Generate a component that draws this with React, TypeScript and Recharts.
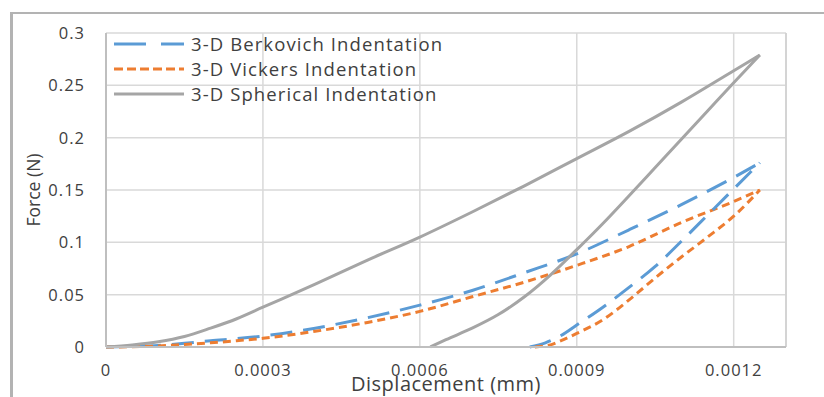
import { LineChart, Line, XAxis, YAxis, CartesianGrid, Legend, Label, ReferenceLine } from 'recharts';

// load-displacement curves (x in mm, force in N)
const loadX = [0, 0.00005, 0.0001, 0.00015, 0.0002, 0.00025, 0.0003, 0.0004, 0.0005, 0.0006, 0.0007, 0.0008, 0.0009, 0.001, 0.0011, 0.0012, 0.00125];
const berkLoad = [0, 0.0005, 0.0015, 0.0035, 0.006, 0.008, 0.0105, 0.018, 0.028, 0.04, 0.054, 0.071, 0.089, 0.112, 0.136, 0.162, 0.176];
const vickLoad = [0, 0.0003, 0.001, 0.0025, 0.004, 0.006, 0.0083, 0.015, 0.0235, 0.034, 0.048, 0.062, 0.078, 0.096, 0.119, 0.139, 0.15];
const spherLoad = [0, 0.002, 0.005, 0.01, 0.018, 0.027, 0.038, 0.06, 0.083, 0.105, 0.129, 0.154, 0.18, 0.206, 0.234, 0.264, 0.279];

// unloading branches, ascending x
const berkUnloadX = [0.00081, 0.00084, 0.00087, 0.0009, 0.00095, 0.001, 0.00105, 0.0011, 0.00115, 0.0012, 0.00125];
const berkUnload = [0, 0.004, 0.011, 0.021, 0.038, 0.057, 0.077, 0.101, 0.126, 0.151, 0.176];
const vickUnloadX = [0.00082, 0.00085, 0.00087, 0.0009, 0.00095, 0.001, 0.00105, 0.0011, 0.00115, 0.0012, 0.00125];
const vickUnload = [0, 0.002, 0.006, 0.013, 0.026, 0.045, 0.066, 0.086, 0.105, 0.125, 0.15];
const spherUnloadX = [0.00062, 0.00065, 0.0007, 0.00075, 0.0008, 0.00085, 0.0009, 0.00095, 0.001, 0.00105, 0.0011, 0.00115, 0.0012, 0.00125];
const spherUnload = [0, 0.007, 0.018, 0.031, 0.048, 0.069, 0.093, 0.118, 0.1445, 0.1715, 0.1985, 0.2255, 0.2525, 0.279];

const xTicks = [0, 0.0003, 0.0006, 0.0009, 0.0012];
const yTicks = [0, 0.05, 0.1, 0.15, 0.2, 0.25, 0.3];

const BLUE = '#5b9bd5';
const ORANGE = '#ed7d31';
const GRAY = '#a5a5a5';
const FONT = '"Open Sans", sans-serif';

const pts = (xs: number[], ys: number[]) => xs.map((x, i) => ({ x, y: ys[i] }));

const series = [
  { name: '3-D Berkovich Indentation', color: BLUE, dash: '22 11', legendDash: '32 15', load: pts(loadX, berkLoad), unload: pts(berkUnloadX, berkUnload) },
  { name: '3-D Vickers Indentation', color: ORANGE, dash: '8 5', legendDash: '9 4', load: pts(loadX, vickLoad), unload: pts(vickUnloadX, vickUnload) },
  { name: '3-D Spherical Indentation', color: GRAY, dash: undefined, legendDash: undefined, load: pts(loadX, spherLoad), unload: pts(spherUnloadX, spherUnload) },
];

function LegendBox() {
  return (
    <div>
      {series.map(s => (
        <div key={s.name} style={{ display: 'flex', alignItems: 'center', height: 25 }}>
          <svg width={72} height={6}>
            <line x1={1} y1={3} x2={71} y2={3} stroke={s.color} strokeWidth={3} strokeDasharray={s.legendDash} />
          </svg>
          <span style={{ marginLeft: 6, fontFamily: FONT, fontSize: 18.5, letterSpacing: 1.1, color: '#404040', lineHeight: '25px', whiteSpace: 'nowrap' }}>
            {s.name}
          </span>
        </div>
      ))}
    </div>
  );
}

const tickStyle = { fontSize: 16.5, fill: '#404040', fontFamily: FONT, letterSpacing: 1 };

export default function App() {
  return (
    <div style={{ position: 'absolute', left: 0, top: 0, width: 824, height: 397, background: '#fff', overflow: 'hidden' }}>
      <div style={{ position: 'absolute', left: 10, top: 12, right: -10, bottom: -10, borderTop: '2px solid #b3b3b3', borderLeft: '3px solid #b3b3b3' }} />
      <div style={{ position: 'absolute', left: 0, top: 0 }}>
        <LineChart width={824} height={397} margin={{ top: 33, right: 38, bottom: 0, left: 0 }}>
          <CartesianGrid stroke="#d9d9d9" strokeWidth={1.5} />
          <XAxis
            dataKey="x" type="number" domain={[0, 0.0013]} ticks={xTicks} height={50}
            tickLine={false} tickMargin={11} axisLine={{ stroke: '#bfbfbf', strokeWidth: 2 }}
            tick={tickStyle} allowDuplicatedCategory={false}
          >
            <Label value="Displacement (mm)" position="insideBottom" offset={6}
              style={{ fontSize: 20, fill: '#404040', fontFamily: FONT, letterSpacing: 0.5 }} />
          </XAxis>
          <YAxis
            type="number" domain={[0, 0.3]} ticks={yTicks} width={106}
            tickLine={false} tickMargin={15} axisLine={{ stroke: '#bfbfbf', strokeWidth: 2 }}
            tick={tickStyle}
          >
            <Label value="Force (N)" angle={-90} position="insideLeft" offset={34}
              style={{ fontSize: 17.5, fill: '#404040', fontFamily: FONT, textAnchor: 'middle' }} />
          </YAxis>
          <ReferenceLine x={0.0013} stroke="#cfcfcf" strokeWidth={1.5} />
          <Legend
            layout="vertical" align="center" verticalAlign="middle"
            wrapperStyle={{ left: 113, top: 31, width: 360 }}
            content={() => <LegendBox />}
          />
          {series.map(s => (
            <Line key={s.name + '-load'} data={s.load} dataKey="y" type="monotone" stroke={s.color} strokeWidth={3}
              strokeDasharray={s.dash} dot={false} isAnimationActive={false} legendType="none" />
          ))}
          {series.map(s => (
            <Line key={s.name + '-unload'} data={s.unload} dataKey="y" type="monotone" stroke={s.color} strokeWidth={3}
              strokeDasharray={s.dash} dot={false} isAnimationActive={false} legendType="none" />
          ))}
        </LineChart>
      </div>
    </div>
  );
}
